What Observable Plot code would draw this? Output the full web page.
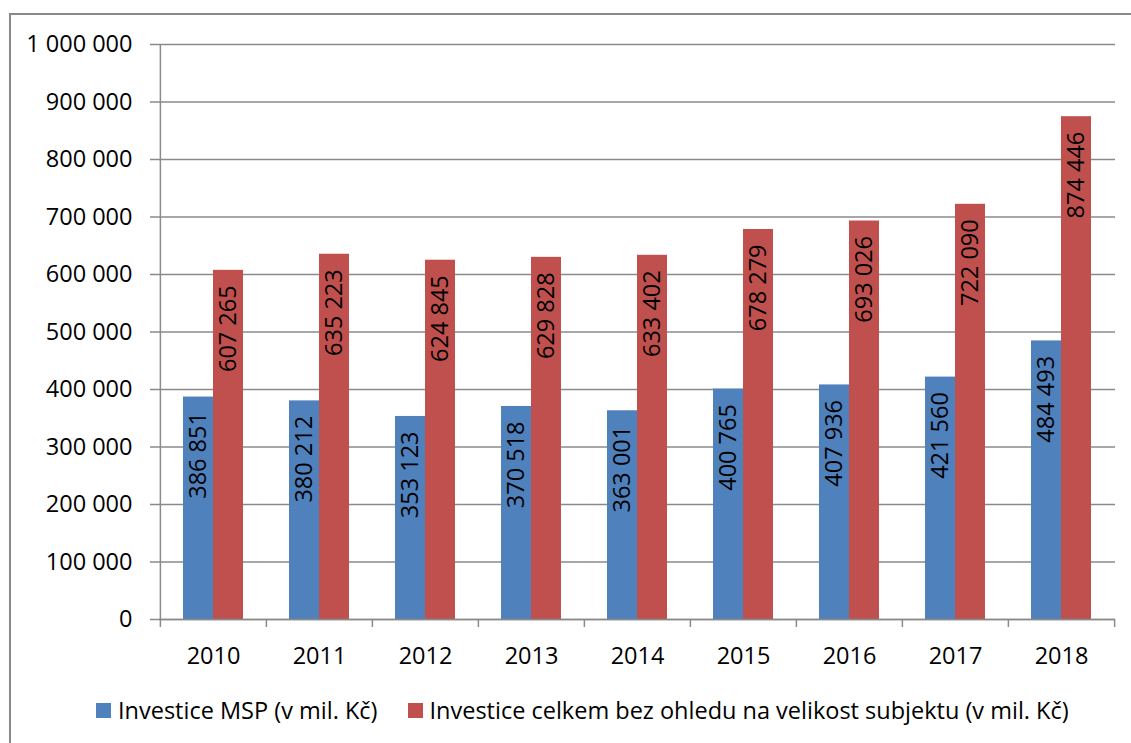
<!DOCTYPE html>
<html><head><meta charset="utf-8">
<script src="https://cdn.jsdelivr.net/npm/d3@7"></script>
<script src="https://cdn.jsdelivr.net/npm/@observablehq/plot@0.6"></script>
<style>
body{margin:0;overflow:hidden;background:#fff;font-family:"Open Sans",sans-serif;}
#frame{position:absolute;left:9px;top:13px;width:1400px;height:1000px;border:2px solid #898989;}
#chart{position:relative;}
#legend{position:relative;display:flex;align-items:center;margin-left:96px;margin-top:25px;height:30px;font-size:23.5px;color:#000;}
.item{display:flex;align-items:center;margin-right:30px;}
.sw{width:15px;height:15px;margin-right:7px;}
</style></head><body>
<div id="frame"></div>
<div id="chart"></div>
<div id="legend"></div>
<script>
const years = ["2010","2011","2012","2013","2014","2015","2016","2017","2018"];
const msp = [386851, 380212, 353123, 370518, 363001, 400765, 407936, 421560, 484493];
const total = [607265, 635223, 624845, 629828, 633402, 678279, 693026, 722090, 874446];
const seriesNames = ["Investice MSP (v mil. Kč)", "Investice celkem bez ohledu na velikost subjektu (v mil. Kč)"];
const colors = ["#4F81BD", "#C0504D"];
const yTicks = d3.range(0, 1000001, 100000);

const fmt = v => d3.format(",")(v).replace(/,/g, " ");
const rows = years.map((y, i) => ({year: y, msp: msp[i], total: total[i]}));
const gray = "#8a8a8a";
const half = (1131 - 159 - 16) / years.length / 2;

const chart = Plot.plot({
  width: 1131, height: 670,
  marginLeft: 159, marginRight: 16, marginTop: 44, marginBottom: 51,
  style: {fontFamily: "Open Sans", fontSize: "23px", color: "#000", background: "transparent"},
  x: {type: "band", domain: years, padding: 0, label: null},
  y: {domain: [0, 1000000], label: null},
  marks: [
    Plot.gridY(yTicks, {stroke: gray, strokeOpacity: 1, strokeWidth: 1.5}),
    Plot.axisY(yTicks, {tickSize: 9, tickPadding: 18, tickFormat: fmt, stroke: gray, strokeWidth: 1.5, fontSize: 23.5, label: null}),
    Plot.barY(rows, {x: "year", y: "msp", fill: colors[0], insetLeft: 23, insetRight: 53}),
    Plot.barY(rows, {x: "year", y: "total", fill: colors[1], insetLeft: 53, insetRight: 23}),
    Plot.ruleY([0], {stroke: gray, strokeWidth: 1.5}),
    Plot.ruleX([years[0]], {y1: 0, y2: 1000000, dx: -half, stroke: gray, strokeWidth: 1.5}),
    Plot.axisX({tickSize: 8, dx: -half, tickFormat: () => "", stroke: gray, strokeWidth: 1.5, label: null}),
    Plot.axisX([years[years.length - 1]], {tickSize: 8, dx: half, tickFormat: () => "", stroke: gray, strokeWidth: 1.5, label: null}),
    Plot.axisX({tickSize: 0, tickPadding: 28, fontSize: 23.5, label: null}),
    Plot.text(rows, {x: "year", y: "msp", text: d => fmt(d.msp), rotate: -90, textAnchor: "end", dx: -15, dy: 15, fontSize: 23.5, fill: "#000"}),
    Plot.text(rows, {x: "year", y: "total", text: d => fmt(d.total), rotate: -90, textAnchor: "end", dx: 15, dy: 15, fontSize: 23.5, fill: "#000"})
  ]
});
document.getElementById("chart").appendChild(chart);

const legend = document.getElementById("legend");
seriesNames.forEach((name, i) => {
  const item = document.createElement("div");
  item.className = "item";
  const sw = document.createElement("div");
  sw.className = "sw";
  sw.style.background = colors[i];
  const t = document.createElement("span");
  t.textContent = name;
  item.appendChild(sw);
  item.appendChild(t);
  legend.appendChild(item);
});
</script>
</body></html>
